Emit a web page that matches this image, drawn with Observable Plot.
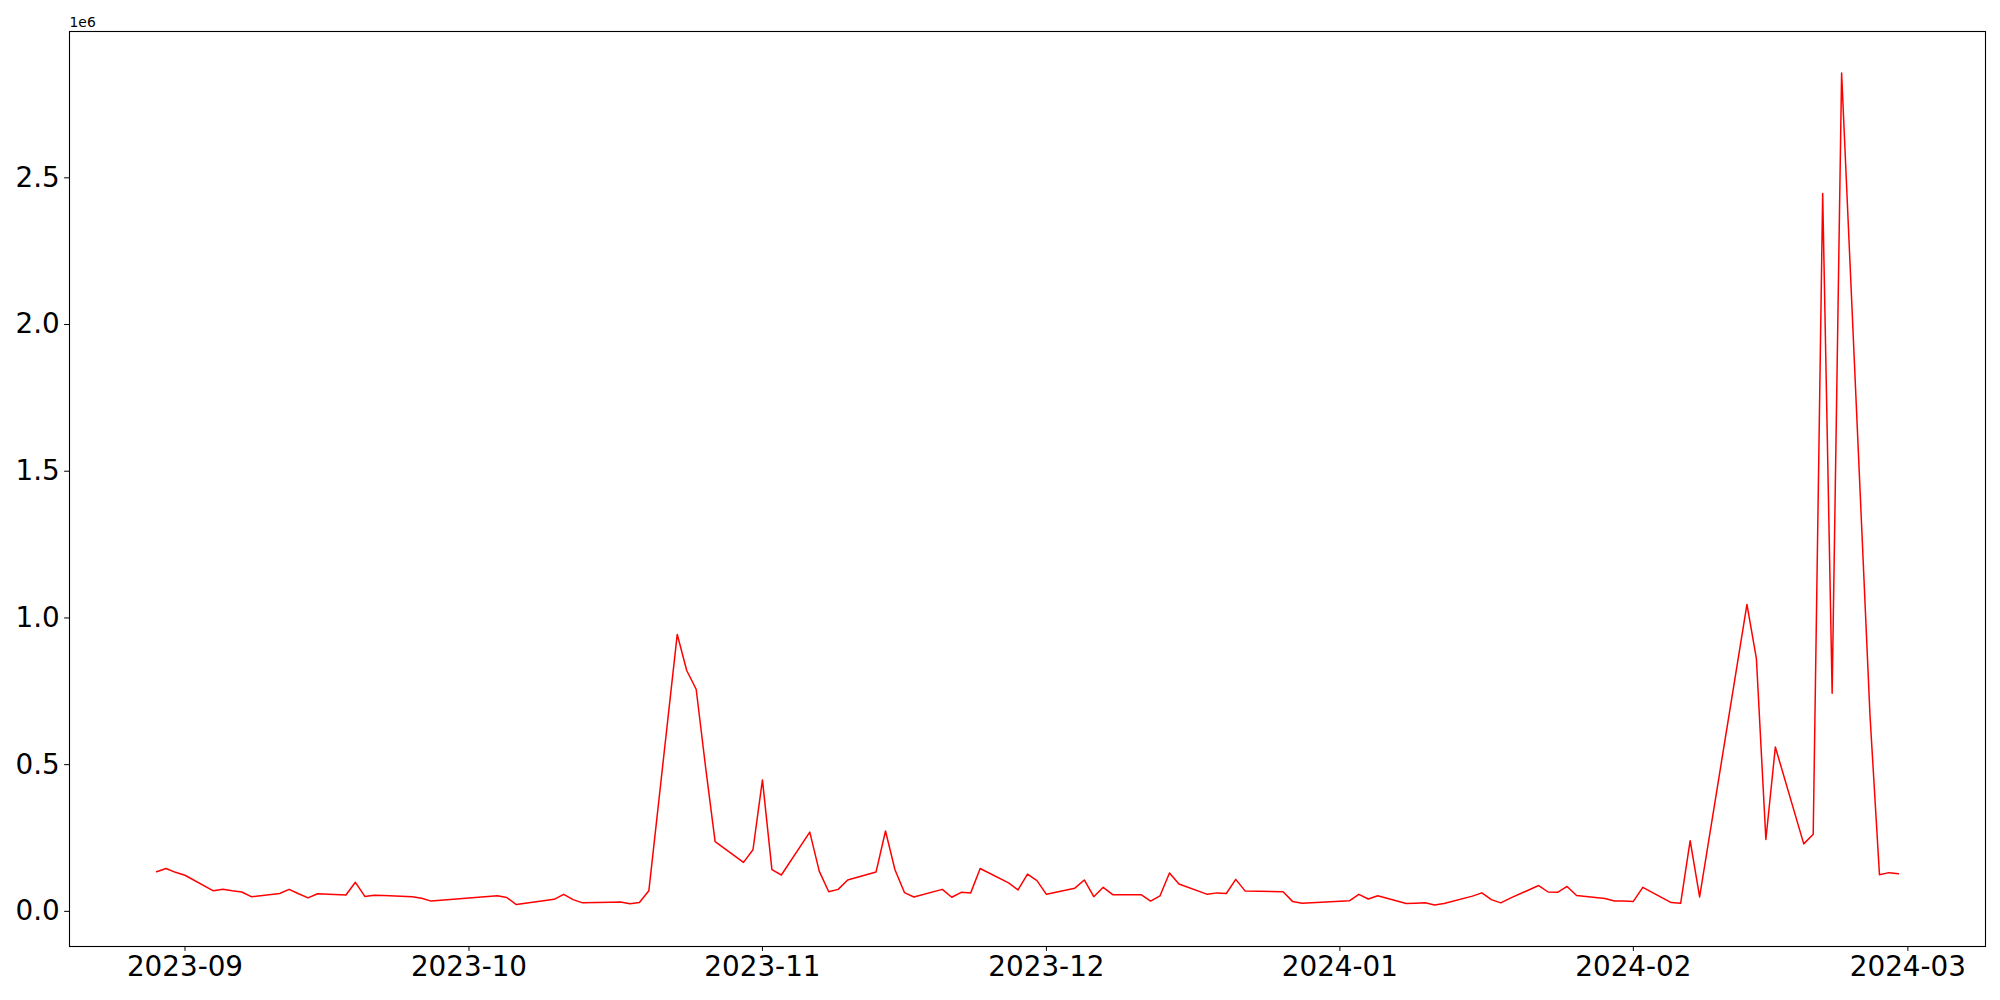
<!DOCTYPE html>
<html><head><meta charset="utf-8">
<script src="https://cdn.jsdelivr.net/npm/d3@7"></script>
<script src="https://cdn.jsdelivr.net/npm/@observablehq/plot@0.6"></script>
<style>html,body{margin:0;padding:0;background:#fff;} #chart{width:2000px;height:1000px;}</style>
</head><body><div id="chart"></div>
<script>
const dates = [
"2023-08-29","2023-08-30","2023-08-31","2023-09-01","2023-09-04","2023-09-05","2023-09-06","2023-09-07","2023-09-08",
"2023-09-11","2023-09-12","2023-09-13","2023-09-14","2023-09-15","2023-09-18","2023-09-19","2023-09-20","2023-09-21","2023-09-22",
"2023-09-25","2023-09-26","2023-09-27","2023-10-04","2023-10-05","2023-10-06","2023-10-10","2023-10-11","2023-10-12","2023-10-13",
"2023-10-16","2023-10-17","2023-10-18","2023-10-19","2023-10-20","2023-10-23","2023-10-24","2023-10-25","2023-10-26","2023-10-27",
"2023-10-30","2023-10-31","2023-11-01","2023-11-02","2023-11-03","2023-11-06","2023-11-07","2023-11-08","2023-11-09","2023-11-10",
"2023-11-13","2023-11-14","2023-11-15","2023-11-16","2023-11-17","2023-11-20","2023-11-21","2023-11-22","2023-11-23","2023-11-24",
"2023-11-27","2023-11-28","2023-11-29","2023-11-30","2023-12-01","2023-12-04","2023-12-05","2023-12-06","2023-12-07","2023-12-08",
"2023-12-11","2023-12-12","2023-12-13","2023-12-14","2023-12-15","2023-12-18","2023-12-19","2023-12-20","2023-12-21","2023-12-22",
"2023-12-26","2023-12-27","2023-12-28","2024-01-02","2024-01-03","2024-01-04","2024-01-05","2024-01-08","2024-01-09","2024-01-10",
"2024-01-11","2024-01-12","2024-01-15","2024-01-16","2024-01-17","2024-01-18","2024-01-19","2024-01-22","2024-01-23","2024-01-24",
"2024-01-25","2024-01-26","2024-01-29","2024-01-30","2024-01-31","2024-02-01","2024-02-02","2024-02-05","2024-02-06","2024-02-07",
"2024-02-08","2024-02-13","2024-02-14","2024-02-15","2024-02-16","2024-02-19","2024-02-20","2024-02-21","2024-02-22","2024-02-23",
"2024-02-26","2024-02-27","2024-02-28","2024-02-29"
];
const values = [
135000,146000,133000,123000,70000,75000,70000,66000,50000,
61000,75000,60000,46000,60000,56000,99000,51000,55000,54000,
50000,45000,35000,53000,47000,23000,41000,58000,40000,29000,
31000,32000,26000,30000,70000,944000,821000,757000,490000,238000,
167000,210000,448000,142000,124000,270000,137000,67000,75000,107000,
134000,274000,142000,64000,49000,75000,48000,65000,63000,146000,
97000,73000,127000,105000,58000,79000,107000,50000,82000,57000,
57000,35000,53000,131000,93000,58000,63000,61000,109000,69000,
67000,34000,28000,36000,58000,42000,53000,27000,28000,29000,
22000,27000,52000,63000,40000,29000,45000,88000,66000,65000,
85000,54000,44000,35000,35000,34000,82000,30000,28000,241000,
49000,1046000,861000,245000,560000,230000,263000,2447000,743000,2857000,
667000,125000,132000,128000
];
const xTickLabels = ["2023-09","2023-10","2023-11","2023-12","2024-01","2024-02","2024-03"];
const yTicks = [0, 500000, 1000000, 1500000, 2000000, 2500000];

const data = dates.map((d, i) => ({date: new Date(d + "T00:00:00Z"), value: values[i]}));
const [x0, x1] = d3.extent(data, d => d.date);
const xpad = (x1 - x0) * 0.05;
const [y0, y1] = d3.extent(values);
const ypad = (y1 - y0) * 0.05;

const chart = Plot.plot({
  width: 2000, height: 1000,
  marginLeft: 69, marginRight: 15, marginTop: 31, marginBottom: 54,
  style: {fontFamily: "DejaVu Sans", fontSize: "27.8px", background: "white", color: "black", overflow: "visible"},
  x: {type: "utc", domain: [new Date(+x0 - xpad), new Date(+x1 + xpad)],
      ticks: xTickLabels.map(s => new Date(s + "-01T00:00:00Z")),
      tickFormat: d3.utcFormat("%Y-%m"), tickSize: 4.86, tickPadding: 4.86, label: null},
  y: {domain: [y0 - ypad, y1 + ypad], ticks: yTicks,
      tickFormat: d => (d / 1e6).toFixed(1), tickSize: 4.86, tickPadding: 4.86, label: null},
  marks: [
    Plot.line(data, {x: "date", y: "value", stroke: "red", strokeWidth: 1.5}),
    Plot.frame({stroke: "black", strokeWidth: 1.1}),
    Plot.text(["1e6"], {frameAnchor: "top-left", text: d => d, dy: -5, lineAnchor: "bottom", textAnchor: "start", fontSize: 13.9})
  ]
});
document.getElementById("chart").appendChild(chart);
</script>
</body></html>
